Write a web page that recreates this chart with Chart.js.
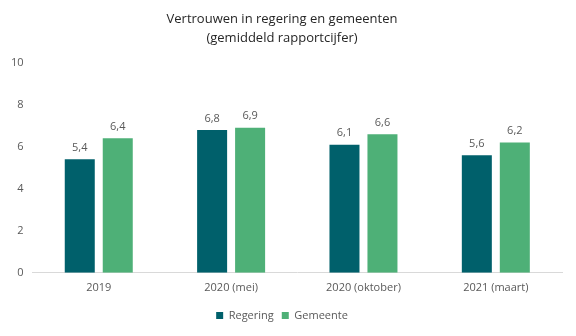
<!DOCTYPE html>
<html>
<head>
<meta charset="utf-8">
<script src="https://cdn.jsdelivr.net/npm/chart.js@4"></script>
<style>
  html, body { margin: 0; padding: 0; background: #fff; }
  #wrap { width: 576px; height: 336px; }
</style>
</head>
<body>
<div id="wrap"><canvas id="c" width="576" height="336"></canvas></div>
<script>
const categories = ['2019', '2020 (mei)', '2020 (oktober)', '2021 (maart)'];
const regering = [5.4, 6.8, 6.1, 5.6];
const gemeente = [6.4, 6.9, 6.6, 6.2];
const yTicks = [0, 2, 4, 6, 8, 10];

const FONT = "'Open Sans', 'Liberation Sans', sans-serif";
const TEXT = '#595959';

// Writes each bar's value above it, with a decimal comma.
const valueLabels = {
  id: 'valueLabels',
  afterDatasetsDraw(chart) {
    const ctx = chart.ctx;
    ctx.save();
    ctx.font = '11px ' + FONT;
    ctx.fillStyle = TEXT;
    ctx.textAlign = 'center';
    ctx.textBaseline = 'bottom';
    chart.data.datasets.forEach((ds, i) => {
      chart.getDatasetMeta(i).data.forEach((bar, j) => {
        ctx.fillText(ds.data[j].toFixed(1).replace('.', ','), bar.x, bar.y - 6);
      });
    });
    ctx.restore();
  }
};

new Chart(document.getElementById('c'), {
  type: 'bar',
  data: {
    labels: categories,
    datasets: [
      { label: 'Regering', data: regering, backgroundColor: '#00606B' },
      { label: 'Gemeente', data: gemeente, backgroundColor: '#4EB077' }
    ]
  },
  options: {
    responsive: false,
    animation: false,
    devicePixelRatio: 1,
    layout: { padding: { left: 2, right: 14, top: 4, bottom: 5 } },
    datasets: { bar: { categoryPercentage: 0.574, barPercentage: 0.79 } },
    plugins: {
      title: {
        display: true,
        text: ['Vertrouwen in regering en gemeenten', '(gemiddeld rapportcijfer)'],
        color: '#262626',
        font: { family: FONT, size: 13, weight: 'normal', lineHeight: 1.45 },
        padding: { top: 6, bottom: 15 }
      },
      legend: {
        position: 'bottom',
        labels: {
          color: TEXT,
          font: { family: FONT, size: 11 },
          boxWidth: 7,
          boxHeight: 7,
          padding: 8
        }
      },
      tooltip: { enabled: false }
    },
    scales: {
      x: {
        grid: { display: false, drawTicks: false },
        border: { color: '#D9D9D9', width: 1 },
        ticks: { color: TEXT, font: { family: FONT, size: 11 }, padding: 8 }
      },
      y: {
        min: 0,
        max: 10,
        afterBuildTicks(axis) { axis.ticks = yTicks.map(v => ({ value: v })); },
        grid: { display: false, drawTicks: false },
        border: { display: false },
        ticks: { color: TEXT, font: { family: FONT, size: 11 }, padding: 9 }
      }
    }
  },
  plugins: [valueLabels]
});
</script>
</body>
</html>
